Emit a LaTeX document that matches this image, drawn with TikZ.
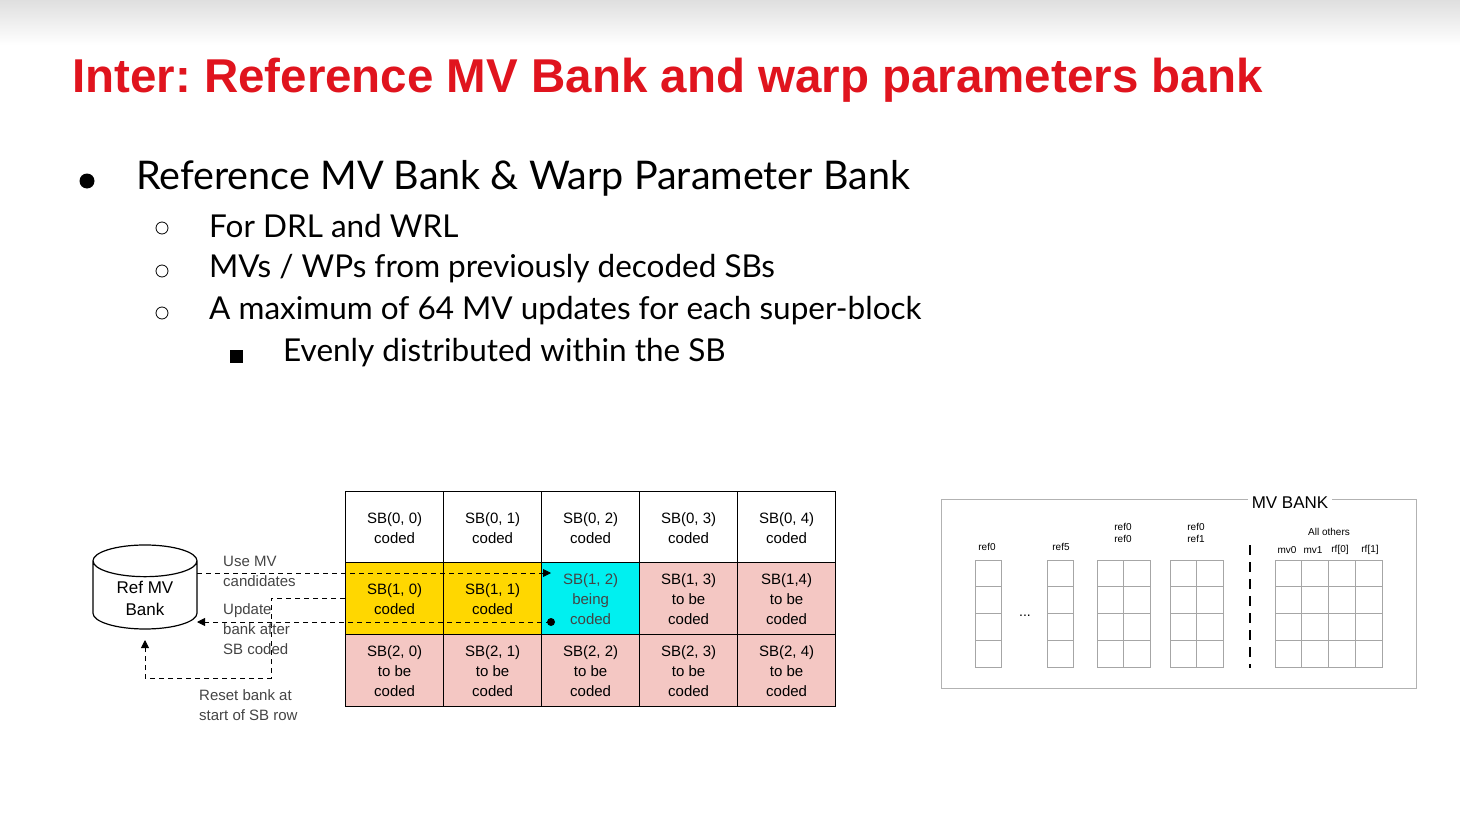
\documentclass[tikz,border=0pt]{standalone}
\usepackage{fontspec}
\setmainfont{Lato}
\newfontfamily\tfont{Liberation Sans}
\newfontfamily\rfont{Liberation Sans}
\usetikzlibrary{shapes.geometric,arrows.meta}
\definecolor{tred}{HTML}{E0141E}
\definecolor{cyel}{HTML}{FFD700}
\definecolor{ccyan}{HTML}{00F0F0}
\definecolor{cpink}{HTML}{F4C7C3}
\definecolor{cgray}{HTML}{444444}
\begin{document}
\begin{tikzpicture}[x=1pt,y=-1pt,
  cell/.style={draw=black,line width=1.3pt,minimum width=98pt,minimum height=72pt,inner sep=0pt,align=center,font=\rfont\fontsize{15}{20}\selectfont,anchor=north west},
  lbl/.style={font=\rfont\fontsize{15}{20}\selectfont,text=cgray,align=left,anchor=west,inner sep=0pt},
  dsh/.style={dashed,line width=0.9pt,dash pattern=on 5pt off 4pt},
  thin/.style={draw=gray!70,line width=0.6pt},
  small/.style={font=\rfont\fontsize{10}{12}\selectfont,inner sep=0pt,align=center},
  bul/.style={anchor=west,inner sep=0pt}]
\useasboundingbox (0,0) rectangle (1460,816);
\shade[top color=gray!25,bottom color=white] (0,0) rectangle (1460,45);
\node[bul,font=\tfont\bfseries\fontsize{47.5}{50}\selectfont,text=tred] (title) at (72,80) {Inter:~Reference MV Bank and warp parameters bank};
\node[bul,font=\fontsize{39.5}{42}\selectfont] (b1) at (136,178) {Reference MV Bank \& Warp Parameter Bank};
\node[circle,fill=black,minimum size=15pt,inner sep=0pt] (bd) at (87,181) {};
\foreach \y/\t [count=\i] in {226/{For DRL and WRL},269/{MVs / WPs from previously decoded SBs},311/{A maximum of 64 MV updates for each super-block}}{
  \node[bul,font=\fontsize{31.5}{34}\selectfont] (s\i) at (209,\y) {\t};
  \node[draw,circle,line width=0.8pt,minimum size=12pt,inner sep=0pt] (c\i) at (162,\y+2) {};
}
\node[bul,font=\fontsize{31.5}{34}\selectfont] (ss) at (283,353) {Evenly distributed within the SB};
\node[fill=black,minimum size=13pt,inner sep=0pt] (sq) at (236,356) {};
% table
\foreach \c in {0,...,4}{
  \node[cell,fill=white] (t0\c) at (345+98*\c,491) {SB(0, \c)\\coded};
}
\node[cell,fill=cyel] (t10) at (345,562) {SB(1, 0)\\coded};
\node[cell,fill=cyel] (t11) at (443,562) {SB(1, 1)\\coded};
\node[cell,fill=ccyan,text=cgray] (t12) at (541,562) {SB(1, 2)\\being\\coded};
\node[cell,fill=cpink] (t13) at (639,562) {SB(1, 3)\\to be\\coded};
\node[cell,fill=cpink] (t14) at (737,562) {SB(1,4)\\to be\\coded};
\foreach \c in {0,...,4}{
  \node[cell,fill=cpink] (t2\c) at (345+98*\c,634) {SB(2, \c)\\to be\\coded};
}
% cylinder
\node[cylinder,shape border rotate=90,draw,line width=1.2pt,minimum width=104pt,minimum height=84pt,aspect=0.5,align=center,font=\rfont\fontsize{17}{22}\selectfont] (bank) at (145,598) {Ref MV\\Bank};
\coordinate (a1) at (197,573);
\coordinate (a2) at (551,573);
\coordinate (b0) at (551,622);
\coordinate (b1e) at (197,622);
\coordinate (r0) at (345,598);
\coordinate (r1) at (271,598);
\coordinate (r2) at (271,678);
\coordinate (r3) at (145,678);
\coordinate (r4) at (145,640);
\draw[dsh,-{Triangle[length=8pt,width=8pt]}] (a1) -- (a2);
\draw[dsh,-{Triangle[length=8pt,width=8pt]}] (b0) -- (b1e);
\fill (b0) circle (4pt);
\draw[dsh,-{Triangle[length=8pt,width=8pt]}] (r0) -- (r1) -- (r2) -- (r3) -- (r4);
\node[lbl] (l1) at (223,571) {Use MV\\candidates};
\node[lbl] (l2) at (223,629) {Update\\bank after\\SB coded};
\node[lbl] (l3) at (199,705) {Reset bank at\\start of SB row};
% MV bank
\draw[draw=gray!60,line width=0.8pt] (941,499) rectangle (1416,688);
\node[fill=white,font=\rfont\fontsize{17}{20}\selectfont,inner sep=4pt] (mvb) at (1290,503) {MV BANK};
\foreach \x/\n in {975/1,1047/1,1097/2,1170/2,1275/4}{
  \foreach \i in {0,...,\numexpr\n-1}{
    \foreach \j in {0,...,3}{
      \draw[thin] (\x+26.7*\i,560+26.75*\j) rectangle ++(26.7,26.75);
    }
  }
}
\node[small] (n1) at (987,547) {ref0};
\node[small] (n2) at (1061,547) {ref5};
\node[small,align=center] (n3) at (1123,533) {ref0\\ref0};
\node[small,align=center] (n4) at (1196,533) {ref0\\ref1};
\node[small] (n5) at (1329,532) {All others};
\node[small] (n6) at (1287,550) {mv0};
\node[small] (n7) at (1313,550) {mv1};
\node[small] (n8) at (1340,550) {rf[0]};
\node[small] (n9) at (1370,550) {rf[1]};
\node[small,font=\rfont\fontsize{14}{14}\selectfont] (dots) at (1025,616) {...};
\draw[line width=1.5pt,dash pattern=on 10pt off 7pt] (1250,545) -- (1250,668);
\end{tikzpicture}
\end{document}
